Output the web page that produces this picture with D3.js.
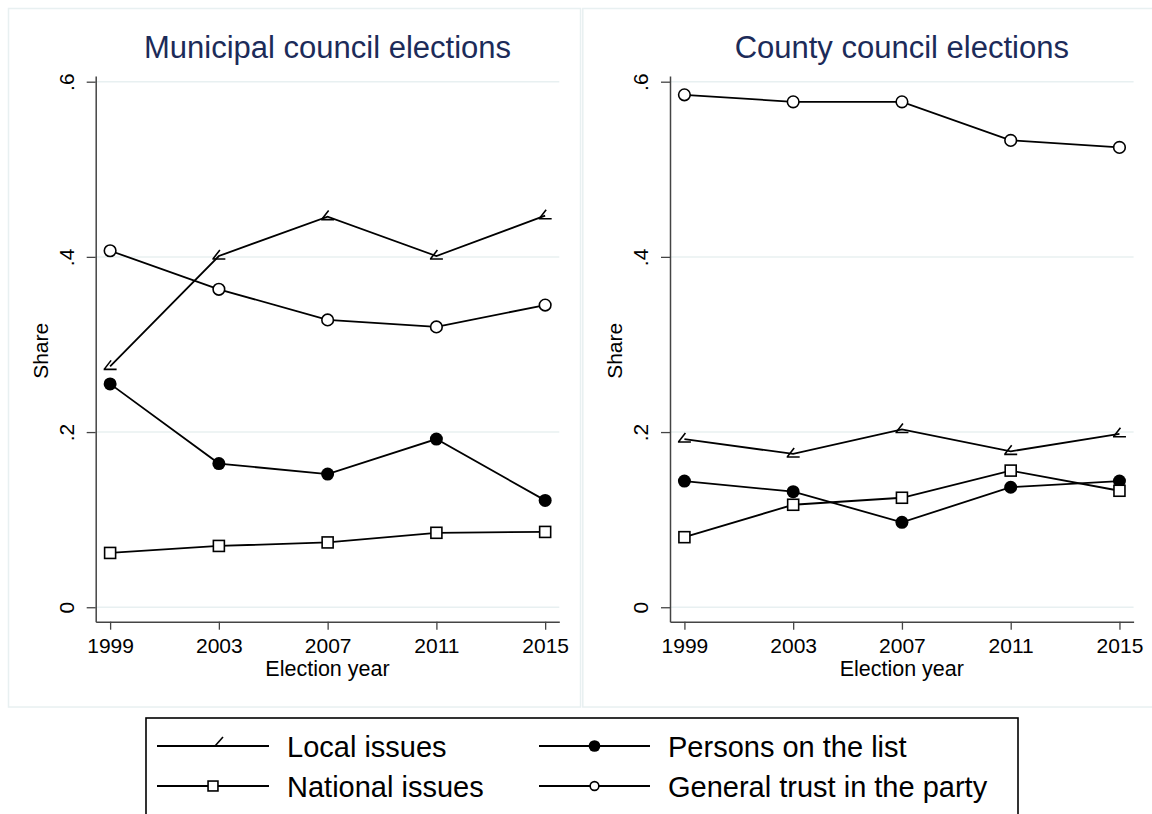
<!DOCTYPE html>
<html>
<head>
<meta charset="utf-8">
<script src="https://cdn.jsdelivr.net/npm/d3@7"></script>
<style>
  body { margin: 0; background: #ffffff; }
  svg { display: block; }
  text { font-family: "Liberation Sans", Arial, Helvetica, sans-serif; }
</style>
</head>
<body>
<svg id="chart" width="1152" height="814"></svg>
<script>
// ---- data ----
const years = [1999, 2003, 2007, 2011, 2015];
const yTicks = [0, 0.2, 0.4, 0.6];
const panelTitles = ["Municipal council elections", "County council elections"];
const seriesNames = ["Local issues", "Persons on the list", "National issues", "General trust in the party"];
const seriesMarkers = ["arrow", "dot", "square", "circle"];

const municipalLocal    = [0.275, 0.401, 0.446, 0.401, 0.447];
const municipalPersons  = [0.255, 0.164, 0.152, 0.192, 0.122];
const municipalNational = [0.062, 0.070, 0.074, 0.085, 0.086];
const municipalTrust    = [0.407, 0.363, 0.328, 0.320, 0.345];

const countyLocal    = [0.192, 0.175, 0.203, 0.178, 0.198];
const countyPersons  = [0.144, 0.132, 0.097, 0.137, 0.144];
const countyNational = [0.080, 0.117, 0.125, 0.156, 0.133];
const countyTrust    = [0.585, 0.577, 0.577, 0.533, 0.525];

const panels = [
  { title: panelTitles[0], series: [municipalLocal, municipalPersons, municipalNational, municipalTrust] },
  { title: panelTitles[1], series: [countyLocal, countyPersons, countyNational, countyTrust] }
];

// ---- layout ----
const svg = d3.select("#chart");
const panelOffset = 574.3;
const plotLeft = 95.7, plotWidth = 463.6;
const plotTop = 76, plotBottom = 621.7;
const gridColor = "#e8f0f1";
const axisColor = "#444444";
const titleColor = "#1c2b59";

const x = d3.scaleLinear().domain([1998.47, 2015.52]).range([0, plotWidth]);
const y = d3.scaleLinear().domain([-0.0165, 0.6065]).range([plotBottom, plotTop]);

function drawMarker(g, type, cx, cy, scale = 1) {
  if (type === "arrow") {
    g.append("path")
      .attr("d", `M${cx - 6.5},${cy + 3}L${cx + 6.5},${cy + 3}M${cx - 6},${cy + 3}L${cx + 1},${cy - 6}`)
      .attr("fill", "none").attr("stroke", "#000").attr("stroke-width", 1.6);
  } else if (type === "dot") {
    g.append("circle").attr("cx", cx).attr("cy", cy).attr("r", 6.5 * scale).attr("fill", "#000");
  } else if (type === "square") {
    const h = 5.5 * scale;
    g.append("rect").attr("x", cx - h).attr("y", cy - h).attr("width", 2 * h).attr("height", 2 * h)
      .attr("fill", "#fff").attr("stroke", "#000").attr("stroke-width", 1.6);
  } else {
    g.append("circle").attr("cx", cx).attr("cy", cy).attr("r", 5.8 * scale)
      .attr("fill", "#fff").attr("stroke", "#000").attr("stroke-width", 1.6);
  }
}

panels.forEach((panel, pi) => {
  const root = svg.append("g").attr("transform", `translate(${pi * panelOffset},0)`);

  // outer panel frame
  root.append("rect").attr("x", 8.5).attr("y", 8.5).attr("width", 572).attr("height", 698.5)
    .attr("fill", "#fff").attr("stroke", gridColor).attr("stroke-width", 1.5);

  const plot = root.append("g").attr("transform", `translate(${plotLeft},0)`);

  // horizontal gridlines
  plot.selectAll("line.grid").data(yTicks).join("line")
    .attr("class", "grid")
    .attr("x1", 0).attr("x2", plotWidth)
    .attr("y1", d => y(d)).attr("y2", d => y(d))
    .attr("stroke", gridColor).attr("stroke-width", 1.5);

  // y axis
  const yAxis = plot.append("g")
    .call(d3.axisLeft(y).tickValues(yTicks).tickSize(9).tickSizeOuter(0)
      .tickFormat(d => d === 0 ? "0" : d3.format(".1f")(d).replace(/^0/, "")));
  yAxis.select(".domain").attr("stroke", axisColor).attr("stroke-width", 1.5);
  yAxis.selectAll(".tick line").attr("stroke", axisColor).attr("stroke-width", 1.3);
  yAxis.selectAll(".tick text")
    .attr("x", 0).attr("dy", 0)
    .attr("transform", "translate(-22,0) rotate(-90)")
    .attr("text-anchor", "middle")
    .attr("font-size", 21).attr("fill", "#000")
    .attr("font-family", "Liberation Sans, Arial, sans-serif");

  // x axis
  const xAxis = plot.append("g").attr("transform", `translate(0,${plotBottom})`)
    .call(d3.axisBottom(x).tickValues(years).tickSize(8).tickSizeOuter(0).tickFormat(d3.format("d")));
  xAxis.select(".domain").attr("stroke", axisColor).attr("stroke-width", 1.5);
  xAxis.selectAll(".tick line").attr("stroke", axisColor).attr("stroke-width", 1.3);
  xAxis.selectAll(".tick text")
    .attr("y", 31).attr("dy", 0)
    .attr("font-size", 21).attr("fill", "#000")
    .attr("font-family", "Liberation Sans, Arial, sans-serif");

  // axis titles
  plot.append("text")
    .attr("x", plotWidth / 2).attr("y", 676)
    .attr("text-anchor", "middle").attr("font-size", 21.5).attr("fill", "#000")
    .text("Election year");
  plot.append("text")
    .attr("transform", `translate(${48 - plotLeft},${(plotTop + plotBottom) / 2 + 2}) rotate(-90)`)
    .attr("text-anchor", "middle").attr("font-size", 21).attr("fill", "#000")
    .text("Share");

  // panel title
  plot.append("text")
    .attr("x", plotWidth / 2).attr("y", 58)
    .attr("text-anchor", "middle").attr("font-size", 31).attr("fill", titleColor)
    .text(panel.title);

  // series lines and markers
  const line = d3.line().x((d, i) => x(years[i])).y(d => y(d));
  panel.series.forEach(vals => {
    plot.append("path").datum(vals)
      .attr("d", line)
      .attr("fill", "none").attr("stroke", "#000").attr("stroke-width", 1.8);
  });
  panel.series.forEach((vals, si) => {
    const mg = plot.append("g");
    vals.forEach((v, i) => drawMarker(mg, seriesMarkers[si], x(years[i]), y(v)));
  });
});

// ---- legend ----
const legend = svg.append("g");
legend.append("rect").attr("x", 146).attr("y", 718).attr("width", 872).attr("height", 120)
  .attr("fill", "#fff").attr("stroke", "#000").attr("stroke-width", 1.6);

const legendCols = [{ x0: 157, x1: 269, tx: 287 }, { x0: 539, x1: 650, tx: 668 }];
const legendRows = [746, 786];
seriesNames.forEach((name, i) => {
  const col = legendCols[i % 2];
  const row = legendRows[Math.floor(i / 2)];
  const g = legend.append("g");
  g.append("line").attr("x1", col.x0).attr("x2", col.x1).attr("y1", row).attr("y2", row)
    .attr("stroke", "#000").attr("stroke-width", 1.9);
  const mx = (col.x0 + col.x1) / 2;
  if (seriesMarkers[i] === "arrow") {
    g.append("path")
      .attr("d", `M${mx + 2},${row}L${mx + 10},${row - 9}`)
      .attr("fill", "none").attr("stroke", "#000").attr("stroke-width", 1.6);
  } else {
    drawMarker(g, seriesMarkers[i], mx, row, seriesMarkers[i] === "circle" ? 0.75 : 0.9);
  }
  g.append("text").attr("x", col.tx).attr("y", row + 11)
    .attr("font-size", 29).attr("fill", "#000").text(name);
});
</script>
</body>
</html>
